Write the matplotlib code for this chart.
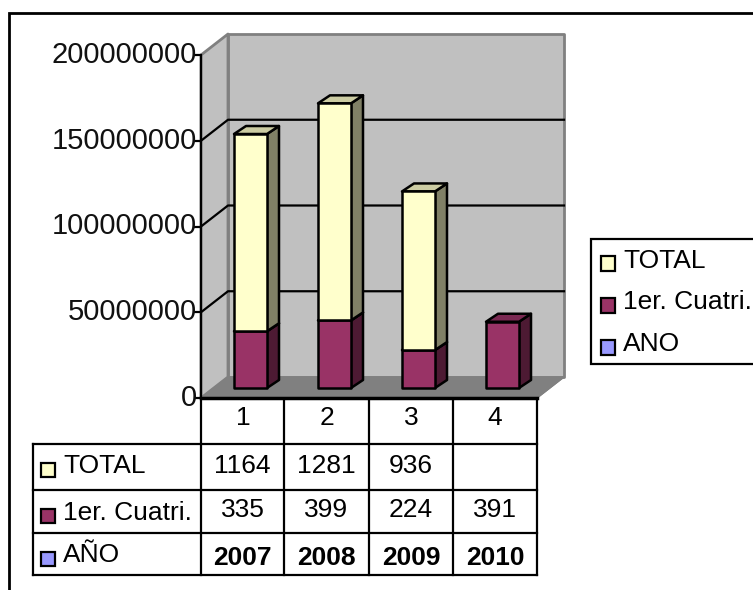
import matplotlib
matplotlib.use("Agg")
import matplotlib.pyplot as plt
from matplotlib.patches import Polygon, Rectangle
from matplotlib.transforms import ScaledTranslation

plt.rcParams["font.family"] = ["Liberation Sans", "DejaVu Sans"]

# Data (the table shows values in units of 100000)
categories = [1, 2, 3, 4]
years = [2007, 2008, 2009, 2010]
total = [1164, 1281, 936, None]
cuatri = [335, 399, 224, 391]
yticks = [0, 50000000, 100000000, 150000000, 200000000]
series_names = ["TOTAL", "1er. Cuatri.", "AÑO"]
legend_names = ["TOTAL", "1er. Cuatri.", "ANO"]
UNIT = 100000

CREAM = ("#FFFFCC", "#808066", "#CCCCA3")
MAROON = ("#993366", "#4D1A33", "#7A2952")
BLUE = "#9999FF"
W, H = 753, 590
LW = 1.6

fig = plt.figure(figsize=(W / 100, H / 100), dpi=100, facecolor="white")

# overlay in pixel coordinates for frame, legend and table
px = fig.add_axes([0, 0, 1, 1])
px.set_xlim(0, W)
px.set_ylim(H, 0)
px.axis("off")

# plot axes: front plane of the 3D box
left, right, top, bottom = 201, 537, 55, 398
ax = fig.add_axes([left / W, 1 - bottom / H, (right - left) / W, (bottom - top) / H])
ax.patch.set_visible(False)
YMAX = yticks[-1]
px_x = (right - left) / 4
px_y = (bottom - top) / YMAX


def off(x, y, dx=0, dy=0):
    # data point shifted by a screen offset in pixels
    return (x + dx / px_x, y + dy / px_y)


def poly(points, color, edge="black", lw=LW, z=2):
    ax.add_patch(Polygon(points, closed=True, facecolor=color, edgecolor=edge,
                         linewidth=lw, joinstyle="round", clip_on=False, zorder=z))


DEPTH = (27, 21)
x0, x1 = 0.5, 4.5
# walls and floor
poly([off(x0, 0, *DEPTH), off(x1, 0, *DEPTH), off(x1, YMAX, *DEPTH), off(x0, YMAX, *DEPTH)],
     "#C0C0C0", edge="#808080", lw=2, z=1)
poly([off(x0, 0), off(x0, 0, *DEPTH), off(x0, YMAX, *DEPTH), off(x0, YMAX)],
     "#C0C0C0", edge="#808080", lw=2, z=1)
poly([off(x0, 0), off(x1, 0), off(x1, 0, *DEPTH), off(x0, 0, *DEPTH)],
     "#808080", edge="#808080", lw=1, z=1.1)

# gridlines on side and back walls
for v in yticks[1:4]:
    ax.plot([off(x0, v)[0], off(x0, v, *DEPTH)[0], off(x1, v, *DEPTH)[0]],
            [off(x0, v)[1], off(x0, v, *DEPTH)[1], off(x1, v, *DEPTH)[1]],
            color="black", lw=LW, clip_on=False, zorder=1.5)

BAR_W = 33
SHIFT = (7.5, 10)
BAR_D = (12, 8)
PERSP = 0.988  # bars sit deeper in the box, so they draw a little shorter


def box(cat, y0, y1, colors, z):
    y0, y1 = y0 * PERSP, y1 * PERSP
    a = off(cat, y0, SHIFT[0] - BAR_W / 2, SHIFT[1])
    b = off(cat, y0, SHIFT[0] + BAR_W / 2, SHIFT[1])
    c = off(cat, y1, SHIFT[0] + BAR_W / 2, SHIFT[1])
    d = off(cat, y1, SHIFT[0] - BAR_W / 2, SHIFT[1])
    shift = lambda p: (p[0] + BAR_D[0] / px_x, p[1] + BAR_D[1] / px_y)
    poly([b, shift(b), shift(c), c], colors[1], lw=1.8, z=z)
    poly([d, c, shift(c), shift(d)], colors[2], lw=1.8, z=z)
    poly([a, b, c, d], colors[0], lw=1.8, z=z)


for cat, c, t in zip(categories, cuatri, total):
    box(cat, 0, c * UNIT, MAROON, 3)
    if t is not None:
        box(cat, c * UNIT, (c + t) * UNIT, CREAM, 3.1)

# axes
for s in ("top", "right"):
    ax.spines[s].set_visible(False)
ax.spines["left"].set_linewidth(LW)
ax.spines["bottom"].set_linewidth(2.5)
ax.spines["left"].set_zorder(4)
ax.spines["bottom"].set_zorder(4)
ax.set_yticks(yticks)
ax.set_yticklabels([str(v) for v in yticks], fontsize=21, color="#111111")
ax.tick_params(axis="y", length=5, width=LW, pad=-2)
for lab in ax.get_yticklabels():
    lab.set_transform(lab.get_transform() + ScaledTranslation(0, 3 / 100, fig.dpi_scale_trans))
ax.set_xticks(categories)
ax.set_xticklabels([str(c) for c in categories], fontsize=19)
ax.tick_params(axis="x", length=0, pad=6)
ax.plot([off(x1, 0)[0], off(x1, 0, *DEPTH)[0]], [0, off(x1, 0, *DEPTH)[1]],
        color="#808080", lw=1, clip_on=False, zorder=1.2)
ax.set_xlim(x0, x1)
ax.set_ylim(0, YMAX)

# outer frame, open at right and bottom
px.plot([9, 9, W], [H, 13, 13], color="black", lw=2, solid_joinstyle="miter")

# data table
cols = [201, 284, 369, 453, 537]
rows = [398, 444, 490, 533, 575]
table_left = 33
for x in cols:
    px.plot([x, x], [rows[0], rows[-1]], color="black", lw=LW)
px.plot([table_left, table_left], [rows[1], rows[-1]], color="black", lw=LW)
for y in rows[1:]:
    px.plot([table_left, cols[-1]], [y, y], color="black", lw=LW)

row_values = [total, cuatri, years]
row_colors = [CREAM[0], MAROON[0], BLUE]
row_text_y = [473, 517, 565]
row_label_y = [473, 520, 562]
box_y = [463, 509, 552]
for i, name in enumerate(series_names):
    px.add_patch(Rectangle((41, box_y[i]), 14, 14, facecolor=row_colors[i],
                           edgecolor="black", linewidth=LW))
    px.text(63, row_label_y[i], name, fontsize=19, va="baseline", ha="left")
    for j, v in enumerate(row_values[i]):
        if v is None:
            continue
        px.text((cols[j] + cols[j + 1]) / 2, row_text_y[i], str(v), fontsize=19,
                va="baseline", ha="center", fontweight="bold" if i == 2 else "normal")

# legend, running off the right edge
px.add_patch(Rectangle((591, 239), W, 125, facecolor="white", edgecolor="black", linewidth=LW,
                       clip_on=True))
legend_text_y = [268, 309, 351]
legend_box_y = [256, 298, 340]
for name, color, ty, by in zip(legend_names, row_colors, legend_text_y, legend_box_y):
    px.add_patch(Rectangle((601, by), 14, 15, facecolor=color, edgecolor="black", linewidth=LW))
    px.text(623, ty, name, fontsize=19, va="baseline", ha="left")

fig.savefig("out.png", dpi=100)
